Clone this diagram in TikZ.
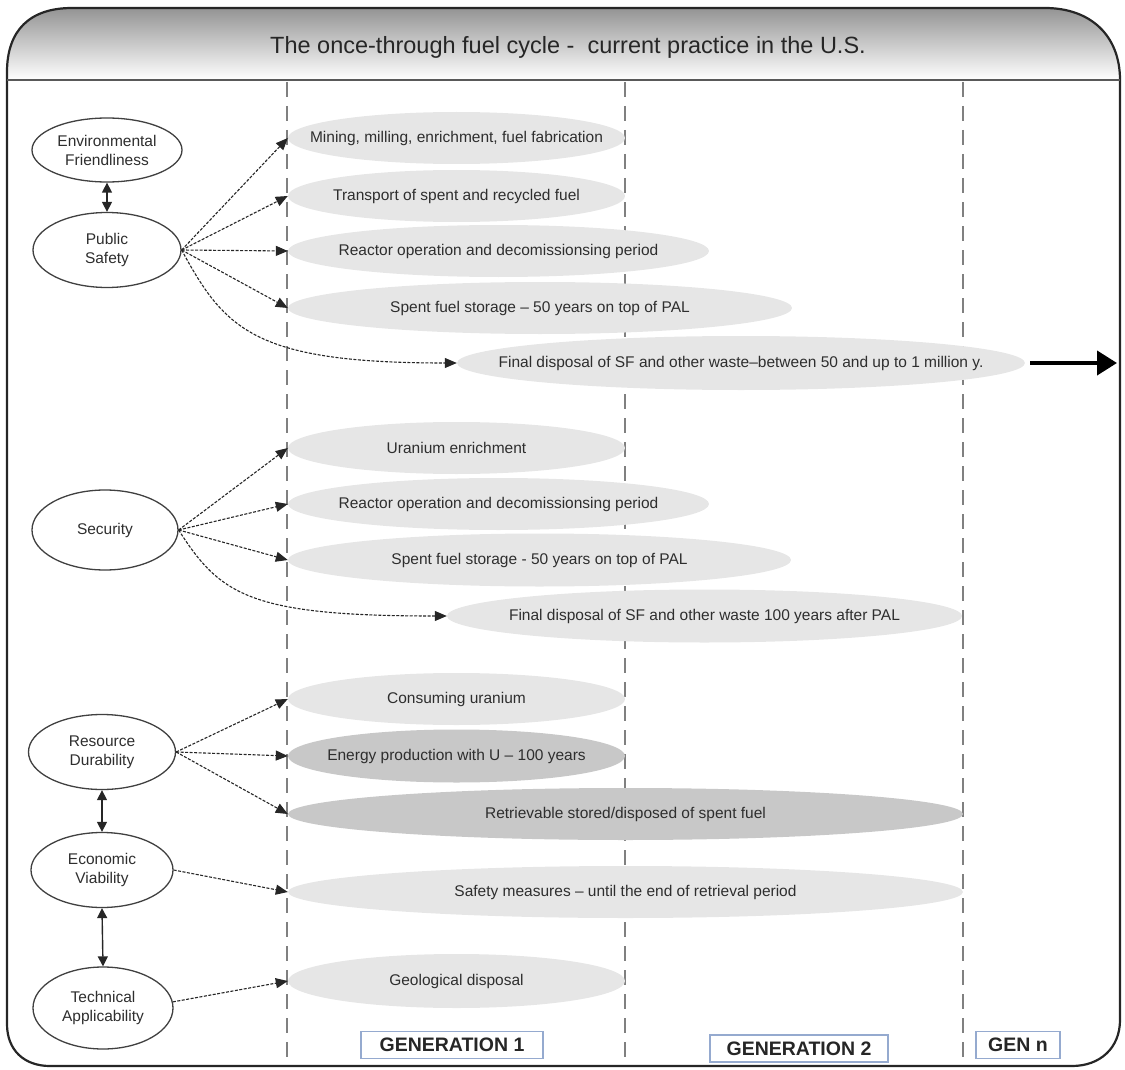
\documentclass[tikz,border=0pt]{standalone}
\usepackage{fontspec}
\setmainfont{Liberation Sans}
\usetikzlibrary{arrows.meta,shapes.geometric}
\definecolor{liteg}{HTML}{E6E6E6}
\definecolor{darkg}{HTML}{C8C8C8}
\definecolor{txt}{HTML}{2E2E2E}
\definecolor{genblue}{HTML}{95AACF}
\newcommand{\zt}[1]{\makebox[0pt]{#1}}
\tikzset{
 lite/.style={ellipse, fill=liteg, inner sep=0pt, text=txt, font=\fontsize{15.5}{18}\selectfont},
 darkel/.style={lite, fill=darkg},
 oval/.style={ellipse, draw=black!75, line width=1.3pt, fill=white, inner sep=0pt, text=txt, align=center, font=\fontsize{15.5}{19}\selectfont},
 dasharrow/.style={-{Triangle[length=12pt,width=10pt]}, dash pattern=on 3pt off 1.5pt, line width=1.1pt, black!85},
 dbl/.style={{Triangle[length=10pt,width=10pt]}-{Triangle[length=10pt,width=10pt]}, line width=1.4pt, black!85},
 genbox/.style={draw=genblue, line width=1.6pt, fill=white, font=\fontsize{19.5}{22}\selectfont\bfseries, text=black!85, inner sep=0pt},
 vline/.style={draw=black!50, line width=1.6pt, dash pattern=on 15pt off 9pt},
 bigarrow/.style={-{Triangle[length=20pt,width=24pt]}, line width=4pt, black},
}
\begin{document}
\begin{tikzpicture}[x=1pt,y=-1pt]
\useasboundingbox (0,0) rectangle (1125,1070);
% header band
\shade[top color=black!42, bottom color=white] (7,80) -- (7,72) .. controls (7,30) and (30,8) .. (72,8) -- (1045,8) .. controls (1090,8) and (1120,35) .. (1120,80) -- cycle;
\node[font=\fontsize{23.5}{26}\selectfont, text=black!85] (title) at (568,47) {The once-through fuel cycle -\ \ current practice in the U.S.};
% frame
\draw[line width=2.2pt, black!85] (7,72) .. controls (7,30) and (30,8) .. (72,8) -- (1045,8) .. controls (1090,8) and (1120,35) .. (1120,80) -- (1120,1020) .. controls (1120,1048) and (1100,1066) .. (1072,1066) -- (50,1066) .. controls (24,1066) and (7,1050) .. (7,1024) -- cycle;
\coordinate (hl) at (7,80);
\coordinate (hr) at (1120,80);
\draw[line width=1.5pt, black!65] (hl) -- (hr);
% generation dividers
\coordinate (v1t) at (287,82); \coordinate (v1b) at (287,1064);
\coordinate (v2t) at (625,82); \coordinate (v2b) at (625,1064);
\coordinate (v3t) at (963,82); \coordinate (v3b) at (963,1064);
\draw[vline] (v1t) -- (v1b);
\draw[vline] (v2t) -- (v2b);
\draw[vline] (v3t) -- (v3b);
% right ellipses
\node[lite, minimum width=337pt, minimum height=52pt] (mine) at (456.5,138) {\zt{Mining, milling, enrichment, fuel fabrication}};
\node[lite, minimum width=337pt, minimum height=52pt] (trans) at (456.5,196) {\zt{Transport of spent and recycled fuel}};
\node[lite, minimum width=421pt, minimum height=52pt] (react1) at (498.5,251) {\zt{Reactor operation and decomissionsing period}};
\node[lite, minimum width=504pt, minimum height=52pt] (spent1) at (540,308) {\zt{Spent fuel storage -- 50 years on top of PAL}};
\node[lite, minimum width=568pt, minimum height=54pt] (final1) at (741,363) {\zt{Final disposal of SF and other waste--between 50 and up to 1 million y.}};
\node[lite, minimum width=337pt, minimum height=52pt] (uran) at (456.5,448) {\zt{Uranium enrichment}};
\node[lite, minimum width=421pt, minimum height=52pt] (react2) at (498.5,504) {\zt{Reactor operation and decomissionsing period}};
\node[lite, minimum width=503pt, minimum height=53pt] (spent2) at (539.5,560) {\zt{Spent fuel storage - 50 years on top of PAL}};
\node[lite, minimum width=515pt, minimum height=53pt] (final2) at (704.5,616) {\zt{Final disposal of SF and other waste 100 years after PAL}};
\node[lite, minimum width=337pt, minimum height=52pt] (cons) at (456.5,699) {\zt{Consuming uranium}};
\node[darkel, minimum width=337pt, minimum height=53pt] (energy) at (456.5,756) {\zt{Energy production with U -- 100 years}};
\node[darkel, minimum width=675pt, minimum height=52pt] (retr) at (625.5,814) {\zt{Retrievable stored/disposed of spent fuel}};
\node[lite, minimum width=675pt, minimum height=52pt] (safety) at (625.5,892) {\zt{Safety measures -- until the end of retrieval period}};
\node[lite, minimum width=337pt, minimum height=54pt] (geo) at (456.5,981) {\zt{Geological disposal}};
% left ovals
\node[oval, minimum width=150pt, minimum height=64pt] (env) at (107,150) {Environmental\\Friendliness};
\node[oval, minimum width=148pt, minimum height=75pt] (ps) at (107,250) {Public\\Safety};
\node[oval, minimum width=146pt, minimum height=80pt] (sec) at (105,530) {Security};
\node[oval, minimum width=147pt, minimum height=75pt] (rd) at (102,752) {Resource\\Durability};
\node[oval, minimum width=142pt, minimum height=75pt] (ev) at (102,870) {Economic\\Viability};
\node[oval, minimum width=140pt, minimum height=82pt] (ta) at (103,1008) {Technical\\Applicability};
% generation labels
\node[genbox, minimum width=182pt, minimum height=27pt] (gen1) at (452,1045) {GENERATION 1};
\node[genbox, minimum width=178pt, minimum height=27pt] (gen2) at (799,1048.5) {GENERATION 2};
\node[genbox, minimum width=84pt, minimum height=27pt] (genn) at (1018,1045) {GEN n};
% double arrows
\draw[dbl] (env.south) -- (ps.north);
\draw[dbl] (rd.south) -- (ev.north);
\draw[dbl] (ev.south) -- (ta.north);
% dashed arrows
\draw[dasharrow] (ps.east) -- (mine.west);
\draw[dasharrow] (ps.east) -- (trans.west);
\draw[dasharrow] (ps.east) -- (react1.west);
\draw[dasharrow] (ps.east) -- (spent1.west);
\draw[dasharrow] (ps.east) .. controls (225,330) and (255,363) .. (final1.west);
\draw[dasharrow] (sec.east) -- (uran.west);
\draw[dasharrow] (sec.east) -- (react2.west);
\draw[dasharrow] (sec.east) -- (spent2.west);
\draw[dasharrow] (sec.east) .. controls (220,595) and (250,616) .. (final2.west);
\draw[dasharrow] (rd.east) -- (cons.west);
\draw[dasharrow] (rd.east) -- (energy.west);
\draw[dasharrow] (rd.east) -- (retr.west);
\draw[dasharrow] (ev.east) -- (safety.west);
\draw[dasharrow] (ta.5) -- (geo.west);
% continuation arrow
\coordinate (cont) at (1117,363);
\draw[bigarrow, shorten <=5pt] (final1.east) -- (cont);
\end{tikzpicture}
\end{document}
